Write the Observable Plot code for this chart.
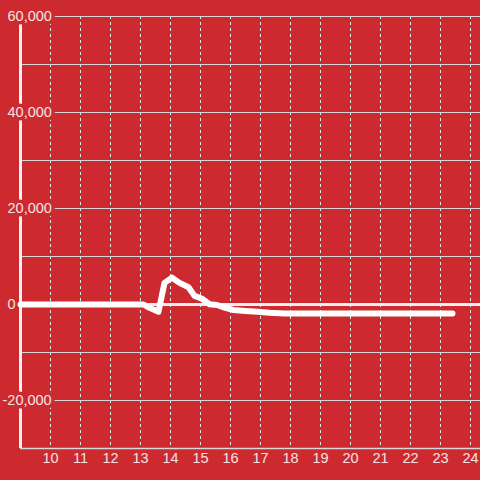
<!DOCTYPE html>
<html>
<head>
<meta charset="utf-8">
<script src="https://cdn.jsdelivr.net/npm/d3@7"></script>
<script src="https://cdn.jsdelivr.net/npm/@observablehq/plot@0.6"></script>
<style>
  html, body { margin: 0; padding: 0; background: #cc2a2f; }
  #chart { width: 480px; height: 480px; }
</style>
</head>
<body>
<div id="chart"></div>
<script>
const xs = [9, 13.1, 13.3, 13.6, 13.8, 14.05, 14.3, 14.6, 14.8, 15.05, 15.3, 15.55, 15.8, 16.1, 16.5, 16.9, 17.3, 17.8, 18.5, 23.4];
const ys = [0, 0, -700, -1500, 4500, 5600, 4500, 3600, 1800, 1200, 50, -100, -650, -1150, -1350, -1500, -1700, -1850, -1900, -1900];
const xTicks = [10, 11, 12, 13, 14, 15, 16, 17, 18, 19, 20, 21, 22, 23, 24];
const yLabelTicks = [60000, 40000, 20000, 0, -20000];
const yGridTicks = [60000, 50000, 40000, 30000, 20000, 10000, -10000, -20000];

const data = xs.map((x, i) => ({x, y: ys[i]}));
const bg = "#cc2a2f";
const fg = "#f3e3e3";
const fmt = d3.format(",");

const chart = Plot.plot({
  width: 480,
  height: 480,
  marginLeft: 20,
  marginRight: 0,
  marginTop: 16,
  marginBottom: 32,
  style: {background: bg, fontFamily: "Liberation Sans, Arial, sans-serif", fontSize: "14px", color: fg},
  x: {domain: [9, 24.3333], axis: null},
  y: {domain: [-30000, 60000], axis: null},
  marks: [
    Plot.ruleX(xTicks, {x: d => d, stroke: "#e6e6e6", strokeWidth: 1, strokeDasharray: "3,3", strokeOpacity: 1}),
    Plot.ruleY(yGridTicks, {y: d => d, stroke: "#d8d8d8", strokeWidth: 1.2}),
    Plot.ruleY([0], {stroke: "#eeeeee", strokeWidth: 3}),
    Plot.ruleY([-30000], {stroke: "#d8d8d8", strokeWidth: 1.5}),
    Plot.ruleX([9], {stroke: "#f2f2f2", strokeWidth: 3}),
    Plot.text(yLabelTicks.filter(d => d >= 0), {y: d => d, text: d => fmt(d), frameAnchor: "left", textAnchor: "start", dx: -13, fill: fg, stroke: bg, strokeWidth: 7, fontSize: 14.5}),
    Plot.text(yLabelTicks.filter(d => d < 0), {y: d => d, text: d => fmt(d).replace("−", "-"), frameAnchor: "left", textAnchor: "start", dx: -18, fill: fg, stroke: bg, strokeWidth: 7, fontSize: 14.5}),
    Plot.line(data, {x: "x", y: "y", stroke: "white", strokeWidth: 6, strokeLinejoin: "round", strokeLinecap: "round"}),
    Plot.text(xTicks, {x: d => d, text: d => String(d), frameAnchor: "bottom", dy: 14, fill: fg, fontSize: 14.5})
  ]
});
document.getElementById("chart").appendChild(chart);
</script>
</body>
</html>
